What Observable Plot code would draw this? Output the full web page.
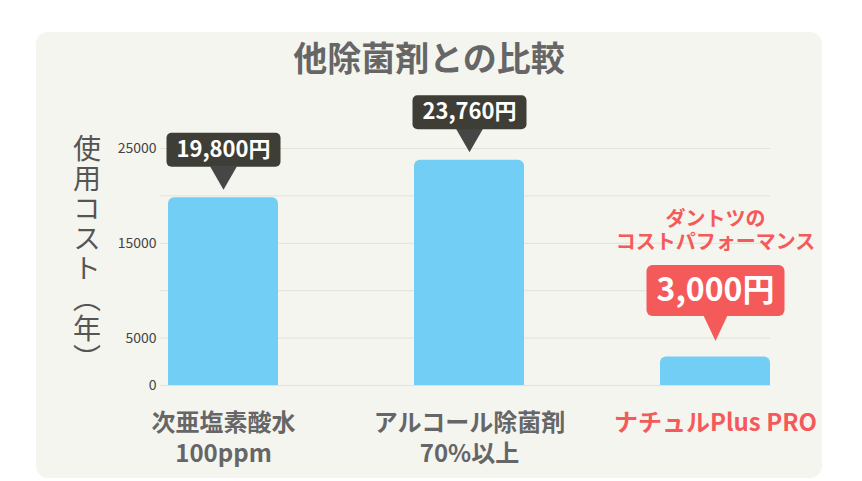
<!DOCTYPE html>
<html>
<head>
<meta charset="utf-8">
<script src="https://cdn.jsdelivr.net/npm/d3@7"></script>
<script src="https://cdn.jsdelivr.net/npm/@observablehq/plot@0.6"></script>
<style>
  html, body { margin: 0; padding: 0; background: #ffffff; }
  body { width: 862px; height: 481px; position: relative; overflow: hidden;
         font-family: "Noto Sans CJK JP", "Noto Sans", sans-serif; }
  #panel { position: absolute; left: 36px; top: 32px; width: 786px; height: 446px;
           background: #f5f5f0; border-radius: 12px; }
  #title { position: absolute; left: 0; top: 0; width: 786px; height: 50px; line-height: 50px;
           text-align: center; font-size: 34px; font-weight: bold; color: #666; }
  #ylabel { position: absolute; left: 31px; top: 102px; writing-mode: vertical-rl;
            font-size: 28px; letter-spacing: 2px; color: #555; font-weight: 400; }
  #chart { position: absolute; left: 0; top: 44px; }
</style>
</head>
<body>
<div id="panel">
  <div id="title"></div>
  <div id="ylabel"></div>
  <div id="chart"></div>
</div>
<script>
// ---- data ----
const chartTitle = "他除菌剤との比較";
const yAxisLabel = "使用コスト（年）";
const categories = ["次亜塩素酸水\n100ppm", "アルコール除菌剤\n70%以上", "ナチュルPlus PRO"];
const costs = [19800, 23760, 3000];
const valueLabels = ["19,800円", "23,760円", "3,000円"];
const highlightCategory = "ナチュルPlus PRO";
const highlightNote = "ダントツの\nコストパフォーマンス";
const yTickLabels = [0, 5000, 15000, 25000];
const gridTicks = [0, 5000, 10000, 15000, 20000, 25000];

const data = categories.map((c, i) => ({name: c, cost: costs[i], label: valueLabels[i], highlight: c === highlightCategory}));
const normalData = data.filter(d => !d.highlight);
const highlightData = data.filter(d => d.highlight);

document.getElementById("title").textContent = chartTitle;
document.getElementById("ylabel").textContent = yAxisLabel;

// rounded box sitting above a pointer of height ph (pointer apex at origin)
function calloutBox(w, h, ph, r) {
  return {
    draw(ctx) {
      const bot = -ph, top = -ph - h, L = -w / 2, R = w / 2;
      ctx.moveTo(L + r, bot);
      ctx.arcTo(L, bot, L, bot - r, r);
      ctx.lineTo(L, top + r);
      ctx.arcTo(L, top, L + r, top, r);
      ctx.lineTo(R - r, top);
      ctx.arcTo(R, top, R, top + r, r);
      ctx.lineTo(R, bot - r);
      ctx.arcTo(R, bot, R - r, bot, r);
      ctx.closePath();
    }
  };
}
// downward pointer (apex at origin)
function calloutPointer(ph, pw) {
  return {
    draw(ctx) {
      ctx.moveTo(0, 0);
      ctx.lineTo(-pw / 2, -ph - 0.5);
      ctx.lineTo(pw / 2, -ph - 0.5);
      ctx.closePath();
    }
  };
}

const gray = "#666666";
const red = "#f55a5a";
const dark = "#3e3e37";
const darkPointer = "#464646";
const barColor = "#73cef6";

const chart = Plot.plot({
  width: 786,
  height: 402,
  marginTop: 72,
  marginBottom: 93,
  marginLeft: 124,
  marginRight: 52,
  style: {background: "transparent", fontFamily: "'Noto Sans CJK JP', 'Noto Sans', sans-serif", overflow: "visible"},
  x: {domain: categories, insetLeft: 8, paddingInner: 0.553, paddingOuter: 0, label: null},
  y: {domain: [0, 25000], label: null},
  marks: [
    Plot.gridY(gridTicks, {stroke: "#e2e2dc", strokeOpacity: 1, strokeWidth: 1}),
    Plot.barY(data, {x: "name", y: "cost", fill: barColor, rx: 6, insetBottom: -8, clip: "frame"}),
    Plot.axisY({ticks: yTickLabels, tickFormat: d => String(d), tickSize: 0, tickPadding: 4,
                fontSize: 14, fill: "#444", label: null}),
    Plot.axisX({ticks: categories.filter(c => c !== highlightCategory), tickSize: 0, tickPadding: 23,
                fontSize: 24, fontWeight: "bold", fill: gray, lineHeight: 1.3, label: null}),
    Plot.axisX({ticks: [highlightCategory], tickSize: 0, tickPadding: 23,
                fontSize: 24, fontWeight: "bold", fill: red, lineHeight: 1.3, label: null}),
    // callouts for normal bars
    Plot.dot(normalData, {x: "name", y: "cost", symbol: calloutPointer(23, 27), fill: darkPointer, r: 1, dy: -8}),
    Plot.dot(normalData, {x: "name", y: "cost", symbol: calloutBox(114, 34, 23, 5), fill: dark, r: 1, dy: -8}),
    Plot.text(normalData, {x: "name", y: "cost", text: "label", dy: -48, fill: "#ffffff",
                           fontSize: 22, fontWeight: "bold"}),
    // callout for highlighted bar
    Plot.dot(highlightData, {x: "name", y: "cost", symbol: calloutPointer(25, 24), fill: red, r: 1, dy: -16}),
    Plot.dot(highlightData, {x: "name", y: "cost", symbol: calloutBox(138, 51, 25, 6), fill: red, r: 1, dy: -16}),
    Plot.text(highlightData, {x: "name", y: "cost", text: "label", dy: -66.5, fill: "#ffffff",
                              fontSize: 32, fontWeight: "bold"}),
    Plot.text(highlightData, {x: "name", y: "cost", text: () => highlightNote, dy: -126.5, fill: red,
                              fontSize: 20, fontWeight: "bold", lineHeight: 1.15})
  ]
});
document.getElementById("chart").appendChild(chart);
</script>
</body>
</html>
